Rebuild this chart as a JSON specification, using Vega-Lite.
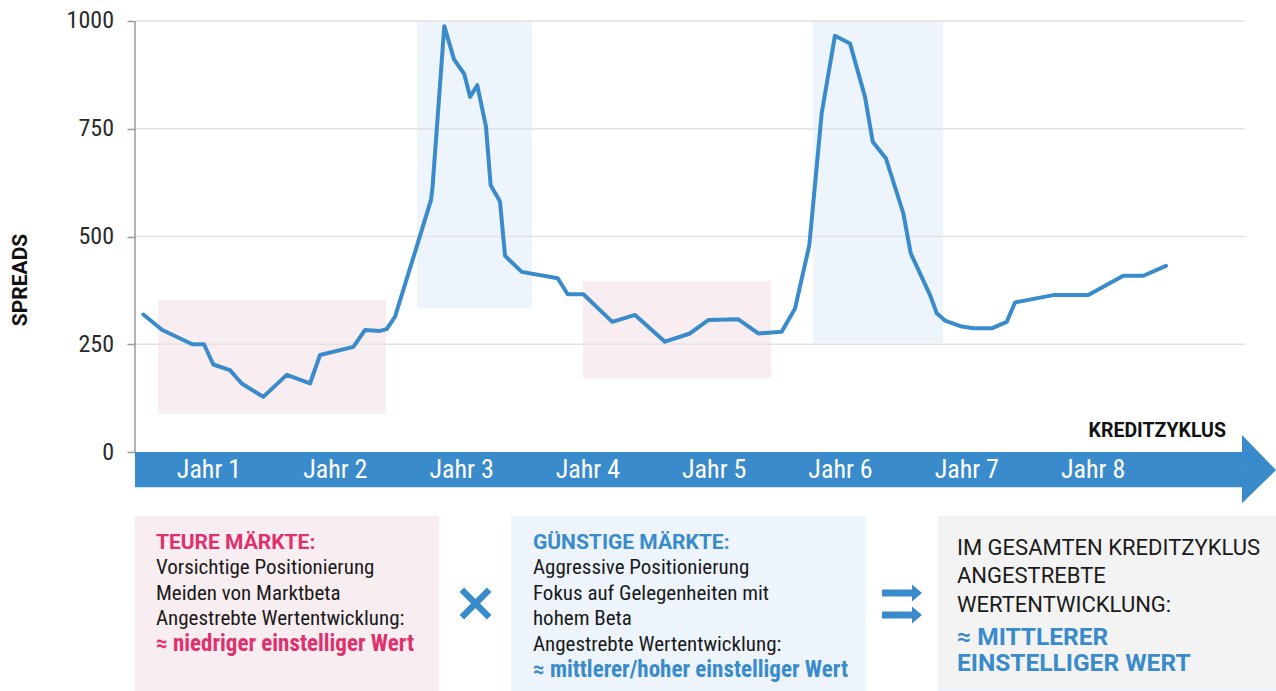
{
  "$schema": "https://vega.github.io/schema/vega-lite/v6.json",
  "autosize": "none",
  "width": 1141,
  "height": 691,
  "padding": {"left": 135, "top": 0, "right": 0, "bottom": 0},
  "background": "white",
  "config": {"view": {"stroke": null}, "font": "Roboto Condensed, Roboto, sans-serif"},
  "datasets": {
    "spreads": [
      {"t": -0.020, "v": 319}, {"t": 0.130, "v": 283}, {"t": 0.368, "v": 250}, {"t": 0.460, "v": 250},
      {"t": 0.534, "v": 203}, {"t": 0.666, "v": 190}, {"t": 0.759, "v": 159}, {"t": 0.930, "v": 128},
      {"t": 1.115, "v": 179}, {"t": 1.300, "v": 159}, {"t": 1.379, "v": 225}, {"t": 1.643, "v": 244},
      {"t": 1.735, "v": 283}, {"t": 1.854, "v": 281}, {"t": 1.907, "v": 285}, {"t": 1.973, "v": 314},
      {"t": 2.144, "v": 476}, {"t": 2.258, "v": 585}, {"t": 2.271, "v": 619}, {"t": 2.363, "v": 988},
      {"t": 2.440, "v": 911}, {"t": 2.521, "v": 877}, {"t": 2.567, "v": 824}, {"t": 2.624, "v": 851},
      {"t": 2.693, "v": 755}, {"t": 2.730, "v": 619}, {"t": 2.804, "v": 581}, {"t": 2.844, "v": 455},
      {"t": 2.976, "v": 418}, {"t": 3.261, "v": 403}, {"t": 3.340, "v": 366}, {"t": 3.464, "v": 366},
      {"t": 3.693, "v": 302}, {"t": 3.873, "v": 318}, {"t": 4.110, "v": 256}, {"t": 4.308, "v": 275},
      {"t": 4.453, "v": 306}, {"t": 4.691, "v": 308}, {"t": 4.849, "v": 275}, {"t": 5.034, "v": 279},
      {"t": 5.140, "v": 333}, {"t": 5.253, "v": 480}, {"t": 5.351, "v": 786}, {"t": 5.456, "v": 966},
      {"t": 5.575, "v": 948}, {"t": 5.694, "v": 824}, {"t": 5.755, "v": 720}, {"t": 5.860, "v": 681},
      {"t": 5.997, "v": 554}, {"t": 6.056, "v": 461}, {"t": 6.209, "v": 364}, {"t": 6.262, "v": 322},
      {"t": 6.327, "v": 305}, {"t": 6.449, "v": 292}, {"t": 6.552, "v": 287}, {"t": 6.697, "v": 287},
      {"t": 6.816, "v": 302}, {"t": 6.882, "v": 347}, {"t": 7.185, "v": 364}, {"t": 7.462, "v": 364},
      {"t": 7.739, "v": 409}, {"t": 7.898, "v": 409}, {"t": 8.077, "v": 432}
    ],
    "zones": [
      {"kind": "teuer", "t": 0.096, "t2": 1.901, "v": 88, "v2": 354},
      {"kind": "guenstig", "t": 2.147, "t2": 3.058, "v": 333, "v2": 1000},
      {"kind": "teuer", "t": 3.461, "t2": 4.950, "v": 171, "v2": 396},
      {"kind": "guenstig", "t": 5.282, "t2": 6.311, "v": 252, "v2": 1000},
      {"kind": "box_teuer", "t": -0.0859, "t2": 2.321, "v": -147.8, "v2": -554.5},
      {"kind": "box_guenstig", "t": 2.891, "t2": 5.702, "v": -147.8, "v2": -554.5},
      {"kind": "box_gesamt", "t": 6.272, "t2": 8.948, "v": -147.8, "v2": -554.5},
      {"kind": "band", "t": -0.0859, "t2": 8.679, "v": 0, "v2": -81.9}
    ],
    "arrowhead": [
      {"t": 8.679, "v": 39.4, "v2": -119.0},
      {"t": 8.948, "v": -41.8, "v2": -41.8}
    ],
    "grid": [
      {"t": -0.0859, "t2": 8.703, "v": 250},
      {"t": -0.0859, "t2": 8.703, "v": 500},
      {"t": -0.0859, "t2": 8.703, "v": 750},
      {"t": -0.0859, "t2": 8.703, "v": 1000}
    ],
    "axisline": [{"t": -0.0859, "v": 0, "v2": 1000}],
    "borders": [
      {"kind": "pink", "t": -0.0859, "t2": 2.321, "v": -552.2},
      {"kind": "blue", "t": 2.891, "t2": 5.702, "v": -552.2},
      {"kind": "blue", "t": 6.272, "t2": 8.948, "v": -552.2},
      {"kind": "blueTop", "t": 6.272, "t2": 8.948, "v": -150.8}
    ],
    "years": [
      {"t": 0.5, "v": -60.3, "text": "Jahr 1"}, {"t": 1.5, "v": -60.3, "text": "Jahr 2"},
      {"t": 2.5, "v": -60.3, "text": "Jahr 3"}, {"t": 3.5, "v": -60.3, "text": "Jahr 4"},
      {"t": 4.5, "v": -60.3, "text": "Jahr 5"}, {"t": 5.5, "v": -60.3, "text": "Jahr 6"},
      {"t": 6.5, "v": -60.3, "text": "Jahr 7"}, {"t": 7.5, "v": -60.3, "text": "Jahr 8"}
    ],
    "times": [{"t": 2.610, "v": -351.5}],
    "arrows": [{"t": 5.987, "v": -327.1}, {"t": 5.987, "v": -378.2}],
    "notes": [
      {"kind": "pinkTitle", "t": 0.080, "v": -225.1, "text": "TEURE MÄRKTE:"},
      {"kind": "body", "t": 0.080, "v": -283.1, "text": "Vorsichtige Positionierung"},
      {"kind": "body", "t": 0.080, "v": -343.4, "text": "Meiden von Marktbeta"},
      {"kind": "body", "t": 0.080, "v": -401.4, "text": "Angestrebte Wertentwicklung:"},
      {"kind": "pinkEmph", "t": 0.080, "v": -461.7, "text": "≈ niedriger einstelliger Wert"},
      {"kind": "blueTitle", "t": 3.065, "v": -225.1, "text": "GÜNSTIGE MÄRKTE:"},
      {"kind": "body", "t": 3.065, "v": -283.1, "text": "Aggressive Positionierung"},
      {"kind": "body", "t": 3.065, "v": -343.4, "text": "Fokus auf Gelegenheiten mit"},
      {"kind": "body", "t": 3.065, "v": -401.4, "text": "hohem Beta"},
      {"kind": "body", "t": 3.065, "v": -461.7, "text": "Angestrebte Wertentwicklung:"},
      {"kind": "blueEmph", "t": 3.065, "v": -522.0, "text": "≈ mittlerer/hoher einstelliger Wert"},
      {"kind": "capsBody", "t": 6.422, "v": -239.0, "text": "IM GESAMTEN KREDITZYKLUS"},
      {"kind": "capsBody", "t": 6.422, "v": -304.7, "text": "ANGESTREBTE"},
      {"kind": "capsBody", "t": 6.422, "v": -370.5, "text": "WERTENTWICKLUNG:"},
      {"kind": "capsEmph", "t": 6.422, "v": -447.8, "text": "≈ MITTLERER"},
      {"kind": "capsEmph", "t": 6.422, "v": -507.4, "text": "EINSTELLIGER WERT"},
      {"kind": "cycle", "t": 8.552, "v": 34.1, "text": "KREDITZYKLUS"},
      {"kind": "axisTitle", "t": -0.941, "v": 399.1, "text": "SPREADS"}
    ]
  },
  "encoding": {
    "x": {"field": "t", "type": "quantitative", "scale": {"domain": [-0.0859, 8.948], "nice": false, "zero": false}, "axis": null},
    "y": {"field": "v", "type": "quantitative", "scale": {"domain": [-554.5, 1048.72], "nice": false, "zero": false},
      "axis": {"values": [0, 250, 500, 750, 1000], "format": "d", "domain": false, "grid": false, "ticks": true, "tickSize": 8, "tickColor": "#9a9a9a", "tickWidth": 1.5,
        "labelFontSize": 24, "labelFont": "Roboto Condensed, Roboto, sans-serif", "labelColor": "#2a2a2a", "labelPadding": 13.5, "title": null, "labelOverlap": false, "labelFlush": false}}
  },
  "layer": [
    {
      "data": {"name": "zones"},
      "mark": {"type": "rect"},
      "encoding": {
        "x2": {"field": "t2"},
        "y2": {"field": "v2"},
        "color": {"field": "kind", "type": "nominal", "legend": null,
          "scale": {"domain": ["teuer", "guenstig", "box_teuer", "box_guenstig", "box_gesamt", "band"],
                    "range": ["#f8edf0", "#edf4fb", "#f8edf0", "#edf4fb", "#f3f3f3", "#3a8bcb"]}}
      }
    },
    {
      "data": {"name": "arrowhead"},
      "mark": {"type": "area", "color": "#3a8bcb", "interpolate": "linear", "opacity": 1},
      "encoding": {"y2": {"field": "v2"}}
    },
    {
      "data": {"name": "grid"},
      "mark": {"type": "rule", "color": "#e2e2e2", "strokeWidth": 1.5},
      "encoding": {"x2": {"field": "t2"}}
    },
    {
      "data": {"name": "axisline"},
      "mark": {"type": "rule", "color": "#9a9a9a", "strokeWidth": 1.5},
      "encoding": {"y2": {"field": "v2"}}
    },
    {
      "data": {"name": "borders"},
      "mark": {"type": "rule"},
      "encoding": {
        "x2": {"field": "t2"},
        "color": {"field": "kind", "type": "nominal", "legend": null,
          "scale": {"domain": ["pink", "blue", "blueTop"], "range": ["#e6487f", "#3a8bcb", "#3a8bcb"]}},
        "strokeWidth": {"field": "kind", "type": "nominal", "legend": null,
          "scale": {"domain": ["pink", "blue", "blueTop"], "range": [2, 2, 3.5]}}
      }
    },
    {
      "data": {"name": "spreads"},
      "mark": {"type": "line", "color": "#3a8bcb", "strokeWidth": 4, "strokeCap": "round", "strokeJoin": "round"}
    },
    {
      "data": {"name": "years"},
      "mark": {"type": "text", "color": "white", "fontSize": 26, "align": "center", "baseline": "alphabetic"},
      "encoding": {"text": {"field": "text"}}
    },
    {
      "data": {"name": "times"},
      "mark": {"type": "point", "shape": "M-1,-1L1,1M1,-1L-1,1", "filled": false, "size": 750, "strokeWidth": 6.5, "strokeCap": "butt", "color": "#3a8bcb", "opacity": 1}
    },
    {
      "data": {"name": "arrows"},
      "mark": {"type": "point", "shape": "M-1,-0.18L0.5,-0.18L0.5,-0.42L1,0L0.5,0.42L0.5,0.18L-1,0.18Z", "filled": true, "size": 1600, "color": "#3a8bcb", "opacity": 1, "strokeWidth": 0}
    },
    {
      "data": {"name": "notes"},
      "transform": [{"filter": "datum.kind == 'pinkTitle'"}],
      "mark": {"type": "text", "align": "left", "baseline": "alphabetic", "font": "Roboto", "fontSize": 21, "fontWeight": "bold", "color": "#e0306e"},
      "encoding": {"text": {"field": "text"}}
    },
    {
      "data": {"name": "notes"},
      "transform": [{"filter": "datum.kind == 'blueTitle'"}],
      "mark": {"type": "text", "align": "left", "baseline": "alphabetic", "font": "Roboto", "fontSize": 21, "fontWeight": "bold", "color": "#3a8bcb"},
      "encoding": {"text": {"field": "text"}}
    },
    {
      "data": {"name": "notes"},
      "transform": [{"filter": "datum.kind == 'body'"}],
      "mark": {"type": "text", "align": "left", "baseline": "alphabetic", "fontSize": 21, "color": "#1a1a1a"},
      "encoding": {"text": {"field": "text"}}
    },
    {
      "data": {"name": "notes"},
      "transform": [{"filter": "datum.kind == 'pinkEmph'"}],
      "mark": {"type": "text", "align": "left", "baseline": "alphabetic", "fontSize": 23, "fontWeight": "bold", "color": "#e0306e"},
      "encoding": {"text": {"field": "text"}}
    },
    {
      "data": {"name": "notes"},
      "transform": [{"filter": "datum.kind == 'blueEmph'"}],
      "mark": {"type": "text", "align": "left", "baseline": "alphabetic", "fontSize": 23, "fontWeight": "bold", "color": "#3a8bcb"},
      "encoding": {"text": {"field": "text"}}
    },
    {
      "data": {"name": "notes"},
      "transform": [{"filter": "datum.kind == 'capsBody'"}],
      "mark": {"type": "text", "align": "left", "baseline": "alphabetic", "font": "Roboto", "fontSize": 22, "color": "#1a1a1a"},
      "encoding": {"text": {"field": "text"}}
    },
    {
      "data": {"name": "notes"},
      "transform": [{"filter": "datum.kind == 'capsEmph'"}],
      "mark": {"type": "text", "align": "left", "baseline": "alphabetic", "font": "Roboto", "fontSize": 24.5, "fontWeight": "bold", "color": "#3a8bcb"},
      "encoding": {"text": {"field": "text"}}
    },
    {
      "data": {"name": "notes"},
      "transform": [{"filter": "datum.kind == 'cycle'"}],
      "mark": {"type": "text", "align": "right", "baseline": "alphabetic", "font": "Roboto", "fontSize": 19.5, "fontWeight": "bold", "color": "#111111"},
      "encoding": {"text": {"field": "text"}}
    },
    {
      "data": {"name": "notes"},
      "transform": [{"filter": "datum.kind == 'axisTitle'"}],
      "mark": {"type": "text", "align": "center", "baseline": "alphabetic", "angle": 270, "font": "Roboto", "fontSize": 21, "fontWeight": "bold", "color": "#111111"},
      "encoding": {"text": {"field": "text"}}
    }
  ]
}
